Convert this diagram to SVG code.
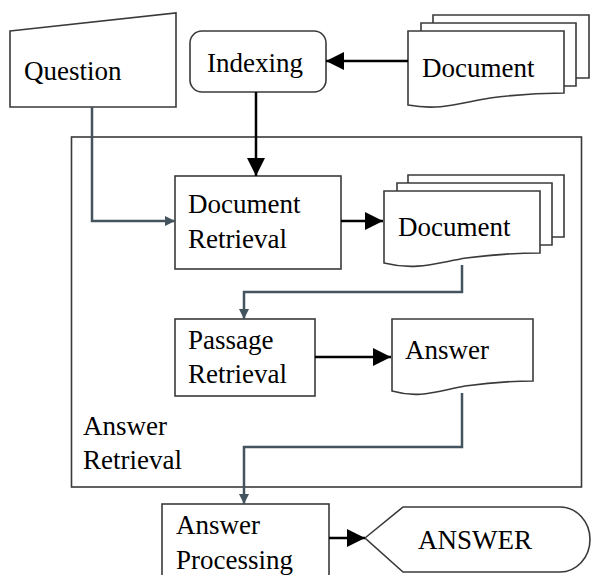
<svg xmlns="http://www.w3.org/2000/svg" width="591" height="575" viewBox="0 0 591 575">
<defs>
<style>
.node{fill:#fff;stroke:#3a3a3a;stroke-width:1.6}
.t{font-family:"Liberation Serif","Times New Roman",serif;font-size:27px;fill:#000}
.blk{fill:none;stroke:#000;stroke-width:2.5}
.gry{fill:none;stroke:#44545e;stroke-width:2.5}
</style>
<marker id="ab" viewBox="0 0 18 18" refX="18" refY="9" markerWidth="18" markerHeight="18" markerUnits="userSpaceOnUse" orient="auto">
<path d="M0,0 L18,9 L0,18 Z" fill="#000"/>
</marker>
<marker id="ag" viewBox="0 0 10 10" refX="10" refY="5" markerWidth="10" markerHeight="10" markerUnits="userSpaceOnUse" orient="auto">
<path d="M0,0 L10,5 L0,10 Z" fill="#44545e"/>
</marker>
</defs>
<rect width="591" height="575" fill="#fff"/>
<g id="answer-retrieval">
<rect x="71.5" y="137" width="510" height="350" fill="none" stroke="#3a3a3a" stroke-width="1.6"/>
<text class="t" x="83" y="435">Answer</text>
<text class="t" x="83" y="469">Retrieval</text>
</g>
<g id="question">
<polygon class="node" points="10,31 176,13 176,107 10,107"/>
<text class="t" x="24" y="80">Question</text>
</g>
<g id="indexing">
<rect class="node" x="190" y="31" width="136" height="61" rx="12"/>
<text class="t" x="207" y="72">Indexing</text>
</g>
<g id="document-source">
<path class="node" d="M433,15 H589 V78 H433 Z"/>
<path class="node" d="M421,23 H576 V86 H421 Z"/>
<path class="node" d="M408,31 H564 V93 C540,93 520,94 490,98 C460,103 440,111 408,105 Z"/>
<text class="t" x="422" y="77">Document</text>
</g>
<g id="document-retrieval">
<rect class="node" x="175" y="176" width="166" height="93"/>
<text class="t" x="188" y="213">Document</text>
<text class="t" x="188" y="248">Retrieval</text>
</g>
<g id="documents">
<path class="node" d="M408,175 H564 V237 H408 Z"/>
<path class="node" d="M397,183 H552 V245 H397 Z"/>
<path class="node" d="M384,191 H540 V253 C516,253 496,254 466,258 C436,263 416,271 384,263 Z"/>
<text class="t" x="398" y="236">Document</text>
</g>
<g id="passage-retrieval">
<rect class="node" x="175" y="319" width="140" height="77"/>
<text class="t" x="188" y="349">Passage</text>
<text class="t" x="188" y="383">Retrieval</text>
</g>
<g id="answer-doc">
<path class="node" d="M392,319 H533 V381 C511,381 493,382 465,386 C437,391 420,399 392,391 Z"/>
<text class="t" x="405" y="359">Answer</text>
</g>
<g id="answer-processing">
<rect class="node" x="162" y="504" width="167" height="80"/>
<text class="t" x="176" y="534">Answer</text>
<text class="t" x="176" y="569">Processing</text>
</g>
<g id="answer-output">
<path class="node" d="M365,538 L403,507 H560 A30,32.5 0 0 1 560,572 H403 Z"/>
<text class="t" x="418" y="549">ANSWER</text>
</g>
<g id="connectors">
<line class="blk" x1="408" y1="61" x2="326" y2="61" marker-end="url(#ab)"/>
<line class="blk" x1="256" y1="92" x2="256" y2="176" marker-end="url(#ab)"/>
<path class="gry" d="M92,107 V221 H175" marker-end="url(#ag)"/>
<line class="blk" x1="341" y1="221" x2="383" y2="221" marker-end="url(#ab)"/>
<path class="gry" d="M462,265 V292 H244 V319" marker-end="url(#ag)"/>
<line class="blk" x1="315" y1="357" x2="391" y2="357" marker-end="url(#ab)"/>
<path class="gry" d="M462,393 V447 H244 V504" marker-end="url(#ag)"/>
<line class="blk" x1="329" y1="538" x2="365" y2="538" marker-end="url(#ab)"/>
</g>
</svg>
